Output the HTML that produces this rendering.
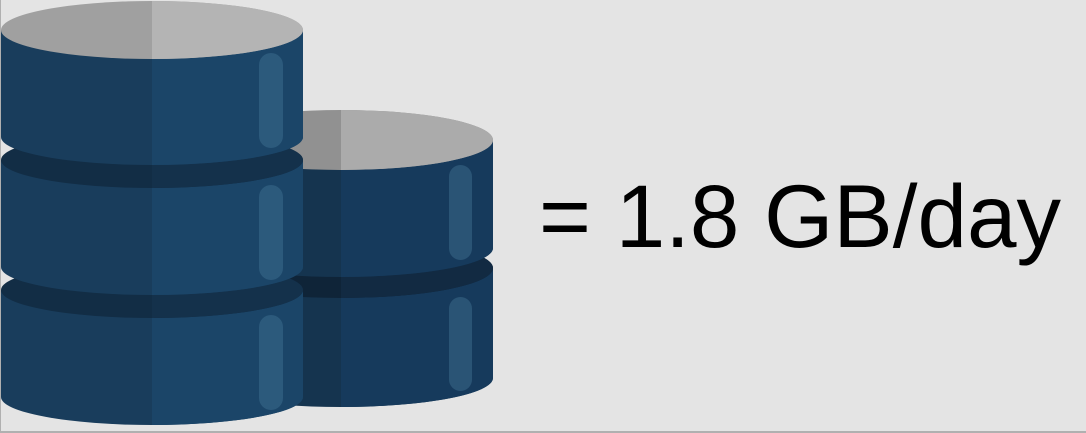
<!DOCTYPE html>
<html><head><style>
html,body{margin:0;padding:0;background:#e4e4e4;}
.wrap{position:relative;width:1086px;height:433px;overflow:hidden;background:#e4e4e4;border-left:1px solid #b0b0b0;border-bottom:2px solid #b0b0b0;box-sizing:border-box;}
.t{position:absolute;left:538px;top:166px;font-family:"Liberation Sans",Arial,sans-serif;font-size:89px;line-height:100px;color:#000;white-space:nowrap;}
</style></head><body><div class="wrap">
<svg width="1086" height="433" style="position:absolute;left:0;top:0">
<!-- right stack -->
<g>
 <path d="M188 268 L492 268 L492 378 A152 29 0 0 1 188 378 Z" fill="#15344f"/>
 <path d="M340 268 L492 268 L492 378 A152 29 0 0 1 340 407 Z" fill="#163a5c"/>
 <ellipse cx="340" cy="268" rx="152" ry="30" fill="#0f2438"/>
 <path d="M340 238 A152 30 0 0 1 492 268 A152 30 0 0 1 340 298 Z" fill="#122a42"/>
 <rect x="448" y="297" width="23" height="94" rx="11.5" fill="#2a5475"/>
 <path d="M188 140 L492 140 L492 248 A152 29 0 0 1 188 248 Z" fill="#15344f"/>
 <path d="M340 140 L492 140 L492 248 A152 29 0 0 1 340 277 Z" fill="#163a5c"/>
 <ellipse cx="340" cy="140" rx="152" ry="30" fill="#919191"/>
 <path d="M340 110 A152 30 0 0 1 492 140 A152 30 0 0 1 340 170 Z" fill="#ababab"/>
 <rect x="448" y="165" width="23" height="95" rx="11.5" fill="#2a5475"/>
</g>
<!-- left stack -->
<g>
 <path d="M0 290 L302 290 L302 397 A151 28 0 0 1 0 397 Z" fill="#193d5c"/>
 <path d="M151 290 L302 290 L302 397 A151 28 0 0 1 151 425 Z" fill="#1b4568"/>
 <ellipse cx="151" cy="290" rx="151" ry="28" fill="#122d45"/>
 <path d="M151 262 A151 28 0 0 1 302 290 A151 28 0 0 1 151 318 Z" fill="#14314b"/>
 <rect x="258" y="315" width="24" height="95" rx="12" fill="#2c5a7c"/>

 <path d="M0 160 L302 160 L302 267 A151 28 0 0 1 0 267 Z" fill="#193d5c"/>
 <path d="M151 160 L302 160 L302 267 A151 28 0 0 1 151 295 Z" fill="#1b4568"/>
 <ellipse cx="151" cy="160" rx="151" ry="28" fill="#122d45"/>
 <path d="M151 132 A151 28 0 0 1 302 160 A151 28 0 0 1 151 188 Z" fill="#14314b"/>
 <rect x="258" y="185" width="24" height="95" rx="12" fill="#2c5a7c"/>

 <path d="M0 30 L302 30 L302 137 A151 28 0 0 1 0 137 Z" fill="#193d5c"/>
 <path d="M151 30 L302 30 L302 137 A151 28 0 0 1 151 165 Z" fill="#1b4568"/>
 <ellipse cx="151" cy="30" rx="151" ry="29" fill="#a0a0a0"/>
 <path d="M151 1 A151 29 0 0 1 302 30 A151 29 0 0 1 151 59 Z" fill="#b4b4b4"/>
 <rect x="258" y="53" width="24" height="95" rx="12" fill="#2c5a7c"/>
</g>
</svg>
<div class="t">= 1.8 GB/day</div>
</div></body></html>
